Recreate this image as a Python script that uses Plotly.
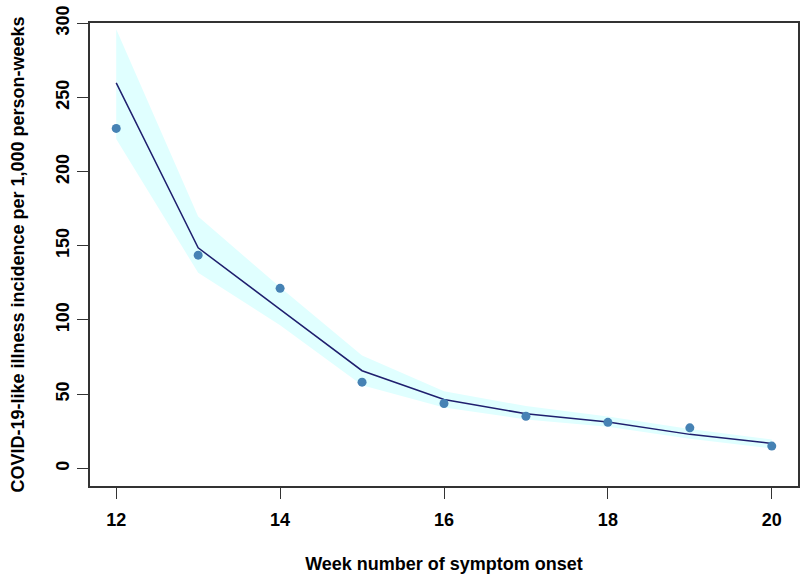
import plotly.graph_objects as go

weeks = [12, 13, 14, 15, 16, 17, 18, 19, 20]
observed = [229.1, 143.7, 121.3, 58.1, 43.7, 35.1, 31.0, 27.3, 15.0]
fitted = [259.8, 148.6, 107.2, 65.8, 46.4, 36.8, 31.2, 22.9, 16.8]
ci_upper = [296.0, 169.7, 122.0, 76.0, 52.0, 42.0, 35.0, 26.5, 19.5]
ci_lower = [222.0, 131.8, 96.5, 56.0, 41.0, 33.0, 28.0, 20.0, 13.5]

x_ticks = [12, 14, 16, 18, 20]
y_ticks = [0, 50, 100, 150, 200, 250, 300]

font_family = "Arial, Liberation Sans, sans-serif"

fig = go.Figure()
fig.add_trace(go.Scatter(x=weeks, y=ci_lower, mode="lines", line=dict(width=0, color="#E0FFFF"),
                         showlegend=False, hoverinfo="skip"))
fig.add_trace(go.Scatter(x=weeks, y=ci_upper, mode="lines", line=dict(width=0, color="#E0FFFF"),
                         fill="tonexty", fillcolor="#E0FFFF", showlegend=False, hoverinfo="skip"))
fig.add_trace(go.Scatter(x=weeks, y=fitted, mode="lines", line=dict(width=1.5, color="#1f1f6e"),
                         showlegend=False))
fig.add_trace(go.Scatter(x=weeks, y=observed, mode="markers",
                         marker=dict(size=9, color="#4682B4"), showlegend=False))

axis_font = dict(family=font_family, size=18, color="#000000", weight="bold")

fig.update_layout(
    width=800, height=577,
    margin=dict(l=90, r=2, t=23, b=91, autoexpand=False),
    paper_bgcolor="white", plot_bgcolor="white",
    font=dict(family=font_family, color="#000000"),
    xaxis=dict(
        range=[11.68, 20.32], tickvals=x_ticks, ticktext=[str(v) for v in x_ticks],
        ticks="outside", ticklen=11, tickwidth=1.2, tickcolor="#333333",
        showline=True, linecolor="#333333", linewidth=1.5, mirror=True,
        showgrid=False, zeroline=False, tickfont=axis_font, automargin=False,
        ticklabelstandoff=6, ticklabeloverflow="allow",
        title=dict(text="Week number of symptom onset", font=axis_font, standoff=28),
    ),
    yaxis=dict(
        range=[-11.9, 300.15], tickvals=y_ticks, ticktext=[str(v) for v in y_ticks],
        ticks="outside", ticklen=11, tickwidth=1.2, tickcolor="#333333",
        showline=True, linecolor="#333333", linewidth=1.5, mirror=True,
        showgrid=False, zeroline=False, tickfont=axis_font, tickangle=-90,
        automargin=False, ticklabelstandoff=1, ticklabeloverflow="allow",
        title=dict(text="COVID-19-like illness incidence per 1,000 person-weeks", font=axis_font, standoff=24),
    ),
)

# remove the browser's default 8px body margin so the figure fills the window exactly
fig.write_html("out.html", config={"displayModeBar": False},
               post_script="document.body.style.margin='0';")
